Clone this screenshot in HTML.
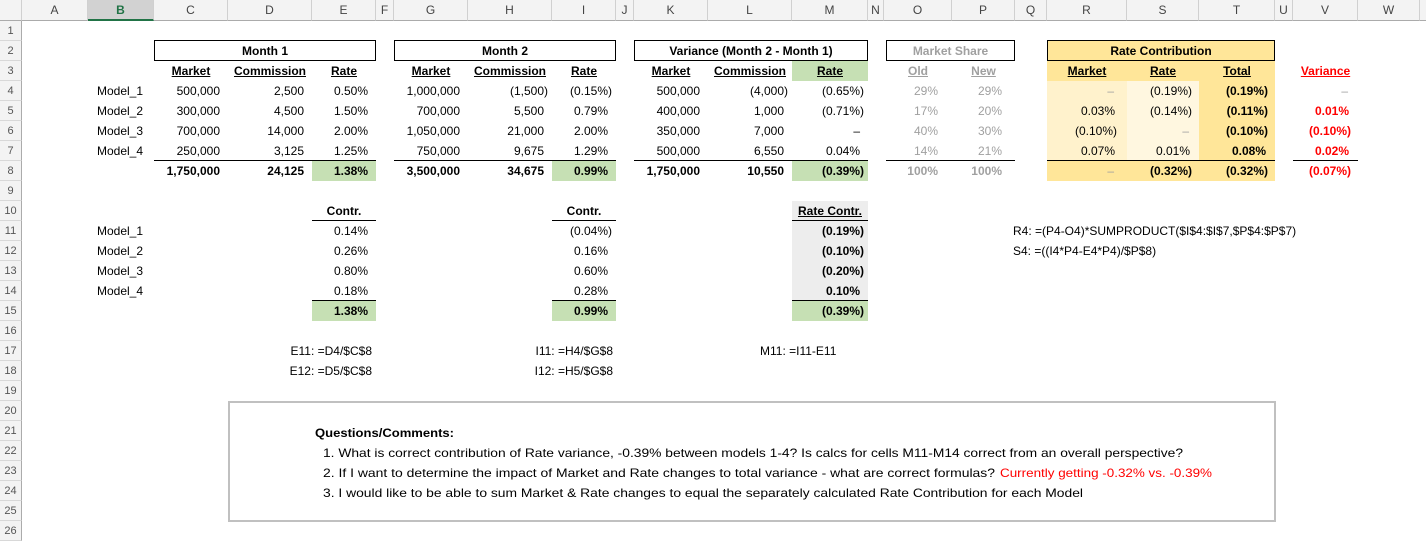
<!DOCTYPE html>
<html><head><meta charset="utf-8">
<style>
*{margin:0;padding:0;box-sizing:border-box}
body{width:1426px;height:535px;overflow:hidden;background:#fff;position:relative;font-family:"Liberation Sans",sans-serif;font-size:12px;color:#000}
.c{position:absolute;height:20px;line-height:20px;white-space:nowrap}
.r{text-align:right;padding-right:8px}
.n{text-align:right;padding-right:4px}
.m{text-align:center}
.b{font-weight:bold}
.u{text-decoration:underline}
.g{color:#a0a0a0}
.red{color:#ff0000}
.bx{position:absolute;border:1px solid #000;height:21px}
.hl{position:absolute;height:1px;background:#000}
.fill{position:absolute}
.ch{position:absolute;top:0;height:21px;line-height:21px;text-align:center;font-size:12px;color:#444;border-right:1px solid #d0d0d0;background:#f3f3f3;border-bottom:1px solid #ababab}
.rh{position:absolute;left:0;width:22px;height:20px;line-height:20px;text-align:center;font-size:11px;color:#555;background:#f3f3f3;border-bottom:1px solid #d8d8d8;border-right:1px solid #ababab}
</style></head><body>

<!-- column headers -->
<div class="ch" style="left:0;width:22px"></div>
<div class="ch" style="left:22px;width:66px">A</div>
<div class="ch" style="left:88px;width:66px;background:#d2d2d2;color:#217346;font-weight:bold;border-bottom:2px solid #217346">B</div>
<div class="ch" style="left:154px;width:74px">C</div>
<div class="ch" style="left:228px;width:84px">D</div>
<div class="ch" style="left:312px;width:64px">E</div>
<div class="ch" style="left:376px;width:18px">F</div>
<div class="ch" style="left:394px;width:74px">G</div>
<div class="ch" style="left:468px;width:84px">H</div>
<div class="ch" style="left:552px;width:64px">I</div>
<div class="ch" style="left:616px;width:18px">J</div>
<div class="ch" style="left:634px;width:74px">K</div>
<div class="ch" style="left:708px;width:84px">L</div>
<div class="ch" style="left:792px;width:76px">M</div>
<div class="ch" style="left:868px;width:16px">N</div>
<div class="ch" style="left:884px;width:68px">O</div>
<div class="ch" style="left:952px;width:63px">P</div>
<div class="ch" style="left:1015px;width:32px">Q</div>
<div class="ch" style="left:1047px;width:80px">R</div>
<div class="ch" style="left:1127px;width:72px">S</div>
<div class="ch" style="left:1199px;width:76px">T</div>
<div class="ch" style="left:1275px;width:18px">U</div>
<div class="ch" style="left:1293px;width:65px">V</div>
<div class="ch" style="left:1358px;width:62px">W</div>
<div class="ch" style="left:1420px;width:10px"></div>

<!-- row headers -->
<div class="rh" style="top:21px">1</div><div class="rh" style="top:41px">2</div><div class="rh" style="top:61px">3</div><div class="rh" style="top:81px">4</div><div class="rh" style="top:101px">5</div><div class="rh" style="top:121px">6</div><div class="rh" style="top:141px">7</div><div class="rh" style="top:161px">8</div><div class="rh" style="top:181px">9</div><div class="rh" style="top:201px">10</div><div class="rh" style="top:221px">11</div><div class="rh" style="top:241px">12</div><div class="rh" style="top:261px">13</div><div class="rh" style="top:281px">14</div><div class="rh" style="top:301px">15</div><div class="rh" style="top:321px">16</div><div class="rh" style="top:341px">17</div><div class="rh" style="top:361px">18</div><div class="rh" style="top:381px">19</div><div class="rh" style="top:401px">20</div><div class="rh" style="top:421px">21</div><div class="rh" style="top:441px">22</div><div class="rh" style="top:461px">23</div><div class="rh" style="top:481px">24</div><div class="rh" style="top:501px">25</div><div class="rh" style="top:521px">26</div>

<!-- fills -->
<div class="fill" style="left:312px;top:161px;width:64px;height:20px;background:#c6e0b4"></div>
<div class="fill" style="left:552px;top:161px;width:64px;height:20px;background:#c6e0b4"></div>
<div class="fill" style="left:792px;top:61px;width:76px;height:20px;background:#c6e0b4"></div>
<div class="fill" style="left:792px;top:161px;width:76px;height:20px;background:#c6e0b4"></div>
<div class="fill" style="left:1047px;top:41px;width:228px;height:40px;background:#ffe699"></div>
<div class="fill" style="left:1047px;top:81px;width:80px;height:80px;background:#fff2cc"></div>
<div class="fill" style="left:1127px;top:81px;width:72px;height:80px;background:#fff7e0"></div>
<div class="fill" style="left:1199px;top:81px;width:76px;height:80px;background:#ffe699"></div>
<div class="fill" style="left:1047px;top:161px;width:228px;height:20px;background:#ffe699"></div>
<div class="fill" style="left:792px;top:201px;width:76px;height:100px;background:#ededed"></div>
<div class="fill" style="left:312px;top:301px;width:64px;height:20px;background:#c6e0b4"></div>
<div class="fill" style="left:552px;top:301px;width:64px;height:20px;background:#c6e0b4"></div>
<div class="fill" style="left:792px;top:301px;width:76px;height:20px;background:#c6e0b4"></div>

<!-- boxes -->
<div class="bx" style="left:154px;top:40px;width:222px"></div>
<div class="c m b" style="left:154px;top:41px;width:222px">Month 1</div>
<div class="bx" style="left:394px;top:40px;width:222px"></div>
<div class="c m b" style="left:394px;top:41px;width:222px">Month 2</div>
<div class="bx" style="left:634px;top:40px;width:234px"></div>
<div class="c m b" style="left:634px;top:41px;width:234px">Variance (Month 2 - Month 1)</div>
<div class="bx" style="left:886px;top:40px;width:129px"></div>
<div class="c m b g" style="left:886px;top:41px;width:129px">Market Share</div>
<div class="bx" style="left:1047px;top:40px;width:228px"></div>
<div class="c m b" style="left:1047px;top:41px;width:228px">Rate Contribution</div>

<!-- lines -->
<div class="hl" style="left:154px;top:160px;width:222px"></div>
<div class="hl" style="left:394px;top:160px;width:222px"></div>
<div class="hl" style="left:634px;top:160px;width:234px"></div>
<div class="hl" style="left:886px;top:160px;width:129px"></div>
<div class="hl" style="left:1047px;top:160px;width:228px"></div>
<div class="hl" style="left:1293px;top:160px;width:65px"></div>
<div class="hl" style="left:312px;top:220px;width:64px"></div>
<div class="hl" style="left:552px;top:220px;width:64px"></div>
<div class="hl" style="left:792px;top:220px;width:76px"></div>
<div class="hl" style="left:312px;top:300px;width:64px"></div>
<div class="hl" style="left:552px;top:300px;width:64px"></div>
<div class="hl" style="left:792px;top:300px;width:76px"></div>

<!-- row 3 headers -->
<div class="c m b u" style="left:154px;top:61px;width:74px">Market</div>
<div class="c m b u" style="left:228px;top:61px;width:84px">Commission</div>
<div class="c m b u" style="left:312px;top:61px;width:64px">Rate</div>
<div class="c m b u" style="left:394px;top:61px;width:74px">Market</div>
<div class="c m b u" style="left:468px;top:61px;width:84px">Commission</div>
<div class="c m b u" style="left:552px;top:61px;width:64px">Rate</div>
<div class="c m b u" style="left:634px;top:61px;width:74px">Market</div>
<div class="c m b u" style="left:708px;top:61px;width:84px">Commission</div>
<div class="c m b u" style="left:792px;top:61px;width:76px">Rate</div>
<div class="c m b u g" style="left:884px;top:61px;width:68px">Old</div>
<div class="c m b u g" style="left:952px;top:61px;width:63px">New</div>
<div class="c m b u" style="left:1047px;top:61px;width:80px">Market</div>
<div class="c m b u" style="left:1127px;top:61px;width:72px">Rate</div>
<div class="c m b u" style="left:1199px;top:61px;width:76px">Total</div>
<div class="c m b u red" style="left:1293px;top:61px;width:65px">Variance</div>

<!-- labels -->
<div class="c r" style="left:88px;top:81px;width:66px;padding-right:11px">Model_1</div>
<div class="c r" style="left:88px;top:101px;width:66px;padding-right:11px">Model_2</div>
<div class="c r" style="left:88px;top:121px;width:66px;padding-right:11px">Model_3</div>
<div class="c r" style="left:88px;top:141px;width:66px;padding-right:11px">Model_4</div>

<!-- Month 1 -->
<div class="c r" style="left:154px;top:81px;width:74px">500,000</div>
<div class="c r" style="left:154px;top:101px;width:74px">300,000</div>
<div class="c r" style="left:154px;top:121px;width:74px">700,000</div>
<div class="c r" style="left:154px;top:141px;width:74px">250,000</div>
<div class="c r b" style="left:154px;top:161px;width:74px">1,750,000</div>
<div class="c r" style="left:228px;top:81px;width:84px">2,500</div>
<div class="c r" style="left:228px;top:101px;width:84px">4,500</div>
<div class="c r" style="left:228px;top:121px;width:84px">14,000</div>
<div class="c r" style="left:228px;top:141px;width:84px">3,125</div>
<div class="c r b" style="left:228px;top:161px;width:84px">24,125</div>
<div class="c r" style="left:312px;top:81px;width:64px">0.50%</div>
<div class="c r" style="left:312px;top:101px;width:64px">1.50%</div>
<div class="c r" style="left:312px;top:121px;width:64px">2.00%</div>
<div class="c r" style="left:312px;top:141px;width:64px">1.25%</div>
<div class="c r b" style="left:312px;top:161px;width:64px">1.38%</div>

<!-- Month 2 -->
<div class="c r" style="left:394px;top:81px;width:74px">1,000,000</div>
<div class="c r" style="left:394px;top:101px;width:74px">700,000</div>
<div class="c r" style="left:394px;top:121px;width:74px">1,050,000</div>
<div class="c r" style="left:394px;top:141px;width:74px">750,000</div>
<div class="c r b" style="left:394px;top:161px;width:74px">3,500,000</div>
<div class="c n" style="left:468px;top:81px;width:84px">(1,500)</div>
<div class="c r" style="left:468px;top:101px;width:84px">5,500</div>
<div class="c r" style="left:468px;top:121px;width:84px">21,000</div>
<div class="c r" style="left:468px;top:141px;width:84px">9,675</div>
<div class="c r b" style="left:468px;top:161px;width:84px">34,675</div>
<div class="c n" style="left:552px;top:81px;width:64px">(0.15%)</div>
<div class="c r" style="left:552px;top:101px;width:64px">0.79%</div>
<div class="c r" style="left:552px;top:121px;width:64px">2.00%</div>
<div class="c r" style="left:552px;top:141px;width:64px">1.29%</div>
<div class="c r b" style="left:552px;top:161px;width:64px">0.99%</div>

<!-- Variance -->
<div class="c r" style="left:634px;top:81px;width:74px">500,000</div>
<div class="c r" style="left:634px;top:101px;width:74px">400,000</div>
<div class="c r" style="left:634px;top:121px;width:74px">350,000</div>
<div class="c r" style="left:634px;top:141px;width:74px">500,000</div>
<div class="c r b" style="left:634px;top:161px;width:74px">1,750,000</div>
<div class="c n" style="left:708px;top:81px;width:84px">(4,000)</div>
<div class="c r" style="left:708px;top:101px;width:84px">1,000</div>
<div class="c r" style="left:708px;top:121px;width:84px">7,000</div>
<div class="c r" style="left:708px;top:141px;width:84px">6,550</div>
<div class="c r b" style="left:708px;top:161px;width:84px">10,550</div>
<div class="c n" style="left:792px;top:81px;width:76px">(0.65%)</div>
<div class="c n" style="left:792px;top:101px;width:76px">(0.71%)</div>
<div class="c r" style="left:792px;top:121px;width:76px">–</div>
<div class="c r" style="left:792px;top:141px;width:76px">0.04%</div>
<div class="c n b" style="left:792px;top:161px;width:76px">(0.39%)</div>

<!-- Market share -->
<div class="c r g" style="left:884px;top:81px;width:68px;padding-right:14px">29%</div>
<div class="c r g" style="left:884px;top:101px;width:68px;padding-right:14px">17%</div>
<div class="c r g" style="left:884px;top:121px;width:68px;padding-right:14px">40%</div>
<div class="c r g" style="left:884px;top:141px;width:68px;padding-right:14px">14%</div>
<div class="c r g b" style="left:884px;top:161px;width:68px;padding-right:14px">100%</div>
<div class="c r g" style="left:952px;top:81px;width:63px;padding-right:13px">29%</div>
<div class="c r g" style="left:952px;top:101px;width:63px;padding-right:13px">20%</div>
<div class="c r g" style="left:952px;top:121px;width:63px;padding-right:13px">30%</div>
<div class="c r g" style="left:952px;top:141px;width:63px;padding-right:13px">21%</div>
<div class="c r g b" style="left:952px;top:161px;width:63px;padding-right:13px">100%</div>

<!-- Rate contribution -->
<div class="c r g" style="left:1047px;top:81px;width:80px;padding-right:13px">–</div>
<div class="c r" style="left:1047px;top:101px;width:80px;padding-right:12px">0.03%</div>
<div class="c n" style="left:1047px;top:121px;width:80px;padding-right:10px">(0.10%)</div>
<div class="c r" style="left:1047px;top:141px;width:80px;padding-right:12px">0.07%</div>
<div class="c r g" style="left:1047px;top:161px;width:80px;padding-right:13px">–</div>
<div class="c n" style="left:1127px;top:81px;width:72px;padding-right:7px">(0.19%)</div>
<div class="c n" style="left:1127px;top:101px;width:72px;padding-right:7px">(0.14%)</div>
<div class="c r g" style="left:1127px;top:121px;width:72px;padding-right:10px">–</div>
<div class="c r" style="left:1127px;top:141px;width:72px;padding-right:9px">0.01%</div>
<div class="c n b" style="left:1127px;top:161px;width:72px;padding-right:7px">(0.32%)</div>
<div class="c n b" style="left:1199px;top:81px;width:76px;padding-right:7px">(0.19%)</div>
<div class="c n b" style="left:1199px;top:101px;width:76px;padding-right:7px">(0.11%)</div>
<div class="c n b" style="left:1199px;top:121px;width:76px;padding-right:7px">(0.10%)</div>
<div class="c r b" style="left:1199px;top:141px;width:76px;padding-right:9px">0.08%</div>
<div class="c n b" style="left:1199px;top:161px;width:76px;padding-right:7px">(0.32%)</div>

<!-- Variance V -->
<div class="c r g" style="left:1293px;top:81px;width:65px;padding-right:10px">–</div>
<div class="c r b red" style="left:1293px;top:101px;width:65px;padding-right:9px">0.01%</div>
<div class="c n b red" style="left:1293px;top:121px;width:65px;padding-right:7px">(0.10%)</div>
<div class="c r b red" style="left:1293px;top:141px;width:65px;padding-right:9px">0.02%</div>
<div class="c n b red" style="left:1293px;top:161px;width:65px;padding-right:7px">(0.07%)</div>

<!-- Section 2 -->
<div class="c m b" style="left:312px;top:201px;width:64px">Contr.</div>
<div class="c m b" style="left:552px;top:201px;width:64px">Contr.</div>
<div class="c m b u" style="left:792px;top:201px;width:76px">Rate Contr.</div>
<div class="c r" style="left:88px;top:221px;width:66px;padding-right:11px">Model_1</div>
<div class="c r" style="left:88px;top:241px;width:66px;padding-right:11px">Model_2</div>
<div class="c r" style="left:88px;top:261px;width:66px;padding-right:11px">Model_3</div>
<div class="c r" style="left:88px;top:281px;width:66px;padding-right:11px">Model_4</div>
<div class="c r" style="left:312px;top:221px;width:64px">0.14%</div>
<div class="c r" style="left:312px;top:241px;width:64px">0.26%</div>
<div class="c r" style="left:312px;top:261px;width:64px">0.80%</div>
<div class="c r" style="left:312px;top:281px;width:64px">0.18%</div>
<div class="c r b" style="left:312px;top:301px;width:64px">1.38%</div>
<div class="c n" style="left:552px;top:221px;width:64px">(0.04%)</div>
<div class="c r" style="left:552px;top:241px;width:64px">0.16%</div>
<div class="c r" style="left:552px;top:261px;width:64px">0.60%</div>
<div class="c r" style="left:552px;top:281px;width:64px">0.28%</div>
<div class="c r b" style="left:552px;top:301px;width:64px">0.99%</div>
<div class="c n b" style="left:792px;top:221px;width:76px">(0.19%)</div>
<div class="c n b" style="left:792px;top:241px;width:76px">(0.10%)</div>
<div class="c n b" style="left:792px;top:261px;width:76px">(0.20%)</div>
<div class="c r b" style="left:792px;top:281px;width:76px">0.10%</div>
<div class="c n b" style="left:792px;top:301px;width:76px">(0.39%)</div>

<div class="c" style="left:1013px;top:221px">R4: =(P4-O4)*SUMPRODUCT($I$4:$I$7,$P$4:$P$7)</div>
<div class="c" style="left:1013px;top:241px">S4: =((I4*P4-E4*P4)/$P$8)</div>

<div class="c r" style="left:250px;top:341px;width:126px;padding-right:4px">E11: =D4/$C$8</div>
<div class="c r" style="left:250px;top:361px;width:126px;padding-right:4px">E12: =D5/$C$8</div>
<div class="c r" style="left:490px;top:341px;width:126px;padding-right:3px">I11: =H4/$G$8</div>
<div class="c r" style="left:490px;top:361px;width:126px;padding-right:3px">I12: =H5/$G$8</div>
<div class="c" style="left:760px;top:341px">M11: =I11-E11</div>

<!-- comments box -->
<div style="position:absolute;left:228px;top:401px;width:1048px;height:121px;border:2px solid #c0c0c0"></div>
<svg style="position:absolute;left:0;top:0" width="1426" height="535">
<g font-family="Liberation Sans, sans-serif" font-size="12">
<text x="315" y="437" font-weight="bold" textLength="139" lengthAdjust="spacingAndGlyphs">Questions/Comments:</text>
<text x="323" y="457" textLength="860" lengthAdjust="spacingAndGlyphs">1. What is correct contribution of Rate variance, -0.39% between models 1-4?  Is calcs for cells M11-M14 correct from an overall perspective?</text>
<text x="323" y="477" textLength="672" lengthAdjust="spacingAndGlyphs">2. If I want to determine the impact of Market and Rate changes to total variance - what are correct formulas?</text>
<text x="1000" y="477" fill="#ff0000" textLength="212" lengthAdjust="spacingAndGlyphs">Currently getting -0.32% vs. -0.39%</text>
<text x="323" y="497" textLength="760" lengthAdjust="spacingAndGlyphs">3. I would like to be able to sum Market &amp; Rate changes to equal the separately calculated Rate Contribution for each Model</text>
</g>
</svg>
</body></html>
